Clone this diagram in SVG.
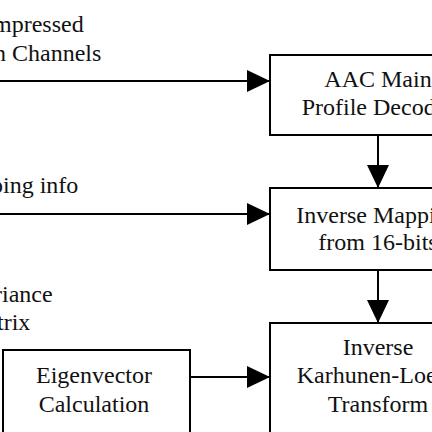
<svg xmlns="http://www.w3.org/2000/svg" width="432" height="432" viewBox="0 0 432 432">
<style>
.box{fill:#fff;stroke:#000;stroke-width:2}
.t{font-family:"Liberation Serif","Times New Roman",serif;font-size:24px;fill:#111}
.c{text-anchor:middle}
.conn{stroke:#000;stroke-width:2;fill:none}
</style>
<defs>
<marker id="ah" markerUnits="userSpaceOnUse" markerWidth="23" markerHeight="22" refX="23" refY="11" orient="auto" viewBox="0 0 23 22">
<path d="M0,0 L23,11 L0,22 Z" fill="#000"/>
</marker>
</defs>
<rect width="432" height="432" fill="#fff"/>
<g id="labels">
<text class="t" x="-7" y="32">mpressed</text>
<text class="t" x="-6" y="61">n Channels</text>
<text class="t" x="-9" y="193">ping info</text>
<text class="t" x="-6" y="302">riance</text>
<text class="t" x="-3" y="330">trix</text>
</g>
<g id="connectors">
<line class="conn" x1="0" y1="81" x2="270" y2="81" marker-end="url(#ah)"/>
<line class="conn" x1="0" y1="214" x2="270" y2="214" marker-end="url(#ah)"/>
<line class="conn" x1="190" y1="377" x2="270" y2="377" marker-end="url(#ah)"/>
<line class="conn" x1="378" y1="135" x2="378" y2="188" marker-end="url(#ah)"/>
<line class="conn" x1="378" y1="270" x2="378" y2="323" marker-end="url(#ah)"/>
</g>
<g id="aac">
<rect class="box" x="270" y="55" width="220" height="80"/>
<text class="t c" x="378" y="87">AAC Main</text>
<text class="t c" x="378" y="115">Profile Decoder</text>
</g>
<g id="inverse-mapping">
<rect class="box" x="270" y="188" width="220" height="82"/>
<text class="t c" x="378" y="223">Inverse Mapping</text>
<text class="t c" x="378" y="250">from 16-bits</text>
</g>
<g id="iklt">
<rect class="box" x="270" y="323" width="220" height="140"/>
<text class="t c" x="378" y="355">Inverse</text>
<text class="t c" x="378" y="383">Karhunen-Loeve</text>
<text class="t c" x="378" y="412">Transform</text>
</g>
<g id="eigen">
<rect class="box" x="3" y="350" width="187" height="120"/>
<text class="t c" x="94" y="383">Eigenvector</text>
<text class="t c" x="94" y="412">Calculation</text>
</g>
</svg>
